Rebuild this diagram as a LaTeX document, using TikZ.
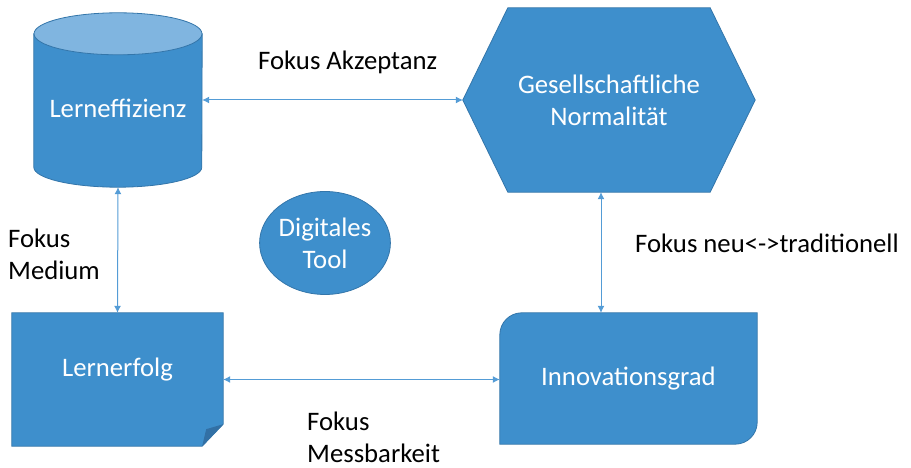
\documentclass[tikz,border=0pt]{standalone}
\usepackage{fontspec}
\setmainfont{Carlito}
\usetikzlibrary{shapes.geometric,arrows.meta,backgrounds}

\definecolor{boxfill}{RGB}{62,143,204}
\definecolor{boxline}{RGB}{52,118,170}
\definecolor{boxtop}{RGB}{128,181,224}
\definecolor{linkcol}{RGB}{84,156,214}
\definecolor{folddark}{RGB}{50,112,165}

\begin{document}
\begin{tikzpicture}[x=1pt,y=1pt,
    boxtext/.style={text=white, font=\fontsize{26.7}{32}\selectfont,
      align=center, inner sep=0pt},
    boxfill/.style={fill=boxfill, draw=boxline, line width=.8pt},
    link/.style={draw=linkcol, line width=1pt,
      {Latex[length=7pt,width=7pt]}-{Latex[length=7pt,width=7pt]}},
    note/.style={font=\fontsize{26.7}{32}\selectfont, align=left, inner sep=0pt}]
  \useasboundingbox (0,0) rectangle (911,468);

  % the five blocks
  \node[boxtext, minimum width=168pt, minimum height=174pt,
    text height=41pt, text depth=5pt] (eff) at (118,368) {Lerneffizienz};
  \node[boxtext, minimum width=292pt, minimum height=184pt]
    (hex) at (609,368) {Gesellschaftliche\\Normalität};
  \node[boxtext, boxfill, ellipse, minimum width=126pt, minimum height=103pt]
    (tool) at (325,225) {Digitales\\Tool};
  \node[boxtext, minimum width=211pt, minimum height=133pt,
    text height=0pt, text depth=6pt] (erf) at (117.5,88.5) {Lernerfolg};
  \node[boxtext, minimum width=257pt, minimum height=131pt]
    (inn) at (628.5,89.5) {Innovationsgrad};

  \begin{pgfonlayer}{background}
    % cylinder
    \path[boxfill] ([yshift=-21pt]eff.north west) -- ([yshift=20pt]eff.south west)
      arc[start angle=180, end angle=360, x radius=84pt, y radius=20pt]
      -- ([yshift=-21pt]eff.north east) -- cycle;
    \path[boxfill, fill=boxtop] ([yshift=-21pt]eff.north)
      ellipse[x radius=84pt, y radius=21pt];
    % hexagon
    \path[boxfill] (hex.west) -- ([xshift=45pt]hex.north west)
      -- ([xshift=-45pt]hex.north east) -- (hex.east)
      -- ([xshift=-45pt]hex.south east) -- ([xshift=45pt]hex.south west) -- cycle;
    % sheet with folded corner
    \path[boxfill] (erf.north west) -- (erf.north east)
      -- ([yshift=22pt]erf.south east) -- ([xshift=-21pt]erf.south east)
      -- (erf.south west) -- cycle;
    \fill[folddark] ([yshift=22pt]erf.south east) -- ++(-17,-5)
      -- ([xshift=-21pt]erf.south east) -- cycle;
    % two rounded corners
    \path[boxfill]
      (inn.south west) [rounded corners=22pt] -- (inn.north west)
      [sharp corners] -- (inn.north east) [rounded corners=22pt]
      -- (inn.south east) [sharp corners] -- cycle;
  \end{pgfonlayer}

  % connectors
  \draw[link] (eff.east) -- (hex.west);
  \draw[link] (eff.south) -- (erf.north);
  \draw[link] (erf.east) -- (erf.east -| inn.west);
  \draw[link] ([xshift=-8pt]hex.south) -- ([xshift=-8pt]hex.south |- inn.north);

  % labels
  \node[note, anchor=base west] (akz) at (258,398) {Fokus Akzeptanz};
  \node[note, anchor=north west] (med) at (8,239) {Fokus\\Medium};
  \node[note, anchor=north west] (mess) at (307,56) {Fokus\\Messbarkeit};
  \node[note, anchor=base west] (trad) at (635,215) {Fokus neu<->traditionell};
\end{tikzpicture}
\end{document}
